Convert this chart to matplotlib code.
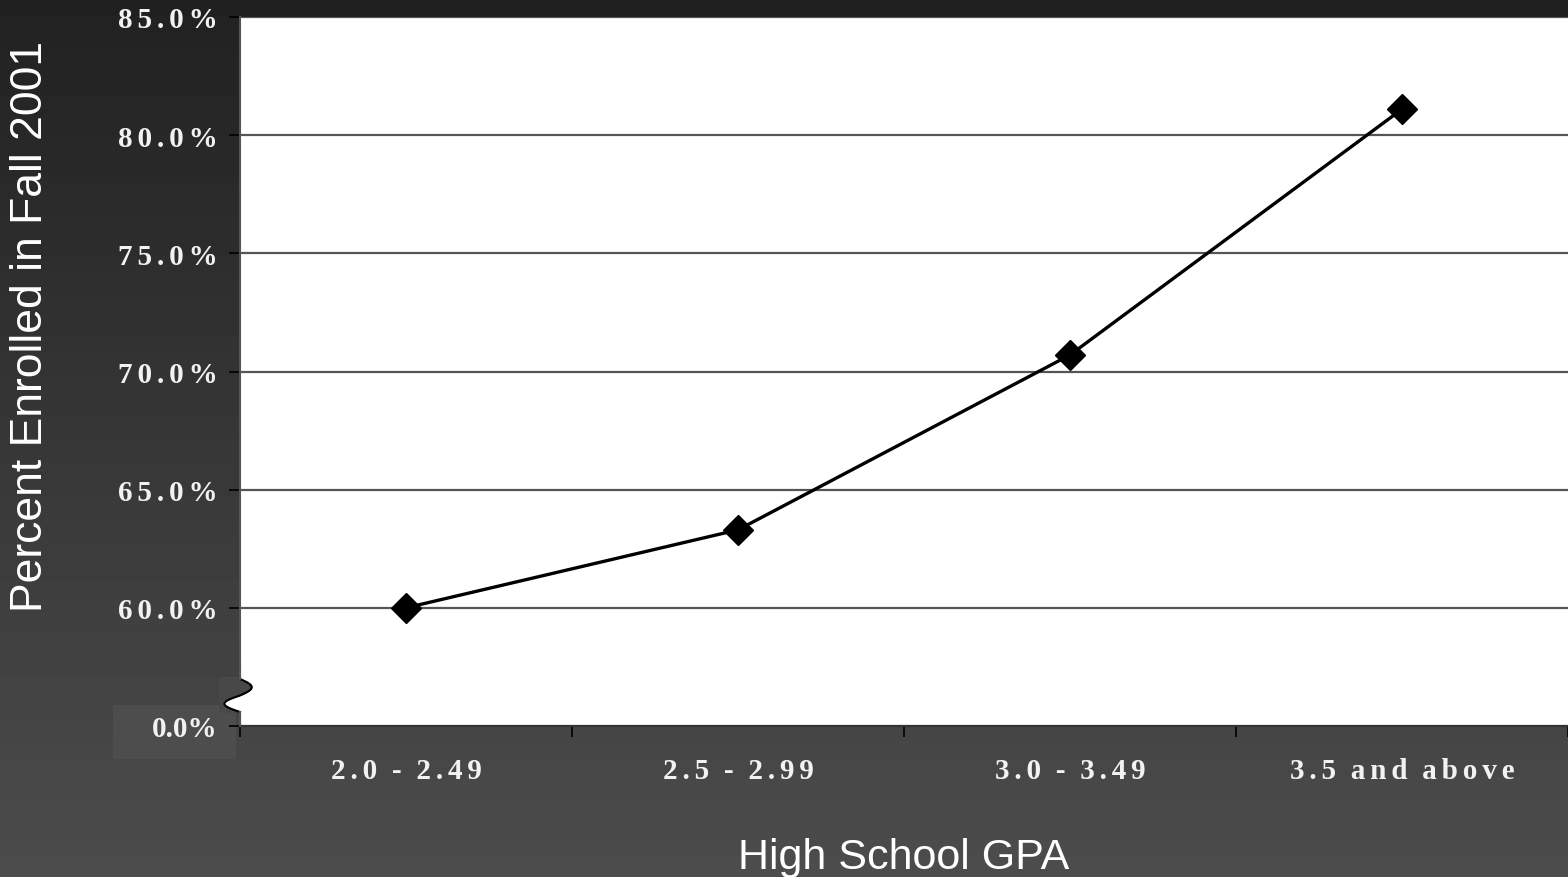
import numpy as np
import matplotlib
matplotlib.use("Agg")
import matplotlib.pyplot as plt
from matplotlib.patches import Rectangle

# data
categories = ["2.0 - 2.49", "2.5 - 2.99", "3.0 - 3.49", "3.5 and above"]
enrolled_pct = [60.0, 63.3, 70.7, 81.1]
y_ticks = [55, 60, 65, 70, 75, 80, 85]
y_tick_labels = ["0.0%", "60.0%", "65.0%", "70.0%", "75.0%", "80.0%", "85.0%"]


def spaced(s):
    # letter-spaced look of the original labels
    return "\u2006".join(s.replace(" ", "\u2006"))


W, H = 1568, 878
fig = plt.figure(figsize=(W / 100, H / 100), dpi=100)

# gradient background
bg = fig.add_axes([0, 0, 1, 1], zorder=-10)
grad = np.linspace(0.13, 0.30, 256).reshape(-1, 1)
bg.imshow(grad, cmap="gray", vmin=0, vmax=1, aspect="auto", extent=(0, 1, 0, 1), origin="upper")
bg.set_axis_off()

left, right, top, bottom = 240, 1568, 18, 727
ax = fig.add_axes([left / W, 1 - bottom / H, (right - left) / W, (bottom - top) / H])
ax.set_facecolor("white")

x = np.arange(len(categories))
ax.plot(x, enrolled_pct, color="black", lw=2.4, marker="D", ms=15, zorder=5, clip_on=False)

ax.set_xlim(-0.5, len(categories) - 0.5)
ax.set_ylim(55, 85)
ax.set_yticks(y_ticks)
serif = dict(family="Liberation Serif", weight="bold", color="#f2f2f2", size=21)
ax.set_yticklabels([lbl if lbl == "0.0%" else spaced(lbl) for lbl in y_tick_labels], **serif)
ax.set_xticks(x)
ax.set_xticklabels([spaced(c) for c in categories], **serif)
ax.tick_params(axis="x", length=0, pad=22)
ax.set_xticks(np.arange(len(categories) + 1) - 0.5, minor=True)
ax.tick_params(axis="x", which="minor", length=8, color="black", width=1.2)
ax.tick_params(axis="y", length=8, color="black", width=1.2, pad=8)
ax.grid(axis="y", color="#555555", lw=1.6)
ax.set_axisbelow(True)

for s in ["top", "right"]:
    ax.spines[s].set_visible(False)
ax.spines["left"].set_color("#555555")
ax.spines["left"].set_linewidth(1.5)
ax.spines["bottom"].set_color("#333333")
ax.spines["bottom"].set_linewidth(1.5)

sans = dict(family="Liberation Sans", color="white", ha="center", va="center")
fig.text((left + right) / 2 / W, 1 - 858 / H, "High School GPA", size=31, **sans)
fig.text(31 / W, 1 - 327 / H, "Percent Enrolled in Fall 2001", rotation=90, size=32, **sans)

# lighter box behind the 0.0% label
fig.add_artist(Rectangle((113 / W, 1 - 760 / H), 123 / W, 54 / H,
                         transform=fig.transFigure, facecolor="#4d4d4d", edgecolor="none", zorder=-5))

# axis break squiggle on the left spine
t = np.linspace(0, 1, 60)
ys = 680 + 33 * t
xs = left + 13 * np.sin(2 * np.pi * t) * np.where(t < 0.5, 0.9, 1.2)
xs[0] = xs[-1] = left
brk = fig.add_axes([0, 0, 1, 1], zorder=3)
brk.set_xlim(0, W)
brk.set_ylim(H, 0)
brk.set_axis_off()
brk.add_patch(Rectangle((left - 18, 678), 17, 20, facecolor="#4a4a4a", edgecolor="none"))
brk.fill(np.r_[xs, left + 20, left + 20], np.r_[ys, 713, 680], color="white")
brk.fill(np.r_[xs, left - 20, left - 20], np.r_[ys, 713, 680], color="#484848")
brk.plot(xs, ys, color="black", lw=1.5)
brk.plot([left, left], [660, 680], color="#555555", lw=1.5)
brk.plot([left, left], [713, 727], color="#555555", lw=1.5)

fig.savefig("out.png", dpi=100)
